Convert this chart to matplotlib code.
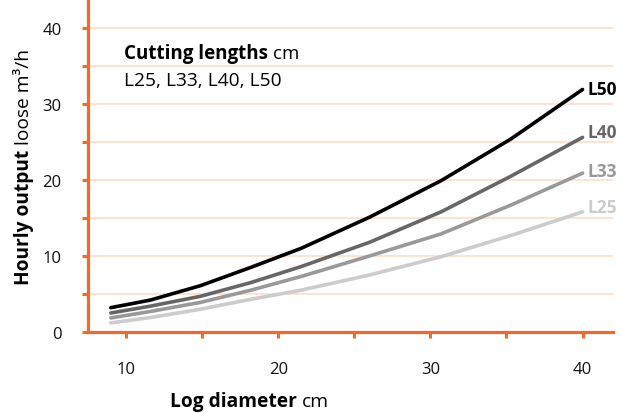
import matplotlib
matplotlib.use("Agg")
import matplotlib.pyplot as plt

# --- data -----------------------------------------------------------------
diameter = [9, 11.6, 14.9, 18.2, 21.5, 26, 30.7, 35.3, 40]
l50 = [3.2, 4.2, 6.1, 8.5, 11.0, 15.1, 19.9, 25.4, 31.9]
l40 = [2.5, 3.4, 4.7, 6.5, 8.6, 11.8, 15.8, 20.5, 25.6]
l33 = [1.85, 2.7, 3.9, 5.5, 7.3, 10.0, 12.9, 16.7, 20.9]
l25 = [1.2, 1.9, 3.0, 4.3, 5.5, 7.5, 9.9, 12.7, 15.8]
series = [("L50", l50, "#000000"), ("L40", l40, "#666666"),
          ("L33", l33, "#999999"), ("L25", l25, "#cccccc")]
x_ticks = [10, 15, 20, 25, 30, 35, 40]
x_labels = ["10", "", "20", "", "30", "", "40"]
y_ticks = [0, 5, 10, 15, 20, 25, 30, 35, 40]
y_labels = ["0", "", "10", "", "20", "", "30", "", "40"]

# small vertical nudges (points) for the end labels
nudge = {"L50": 0.5, "L40": 4, "L33": 1.5, "L25": 3.5}

orange = "#f26a2a"
grid = "#fde1cf"
plt.rcParams["font.family"] = ["Open Sans", "DejaVu Sans"]

fig = plt.figure(figsize=(6.22, 4.14), dpi=100)
ax = fig.add_axes([88/622, 1 - 333/414, (613-88)/622, 333/414])

for y in y_ticks[1:]:
    ax.axhline(y, color=grid, lw=1.3, zorder=0)

for name, vals, col in series:
    ax.plot(diameter, vals, color=col, lw=2.6, solid_capstyle="round",
            solid_joinstyle="round", zorder=3)
    ax.annotate(name, (diameter[-1], vals[-1]), xytext=(3.5, nudge[name]),
                textcoords="offset points", color=col, fontsize=12.5,
                fontweight="bold", va="center", ha="left")

ax.set_xlim(7.5, 42)
ax.set_ylim(0, 43.8)
ax.set_xticks(x_ticks)
ax.set_xticklabels(x_labels)
ax.set_yticks(y_ticks)
ax.set_yticklabels(y_labels)
ax.tick_params(axis="both", colors=orange, length=4.5, width=2.2, labelsize=12,
               labelcolor="#111111")
ax.tick_params(axis="x", pad=16.5)
ax.tick_params(axis="y", pad=14.5)
for s in ["top", "right"]:
    ax.spines[s].set_visible(False)
for s in ["left", "bottom"]:
    ax.spines[s].set_color(orange)
    ax.spines[s].set_linewidth(2.3)

fig.canvas.draw()
r = fig.canvas.get_renderer()


def mixed(x, y, bold, rest, rot=0, size=12):
    t = fig.text(x, y, bold, fontsize=size, fontweight="bold", rotation=rot,
                 ha="left", va="baseline", rotation_mode="anchor")
    bb = t.get_window_extent(r).transformed(fig.transFigure.inverted())
    if rot == 0:
        fig.text(bb.x1 + 0.008, y, rest, fontsize=size, ha="left", va="baseline")
    else:
        fig.text(x, bb.y1 + 0.012, rest, fontsize=size, rotation=rot,
                 ha="left", va="baseline", rotation_mode="anchor")


mixed(170/622, 1 - 407/414, "Log diameter", "cm", size=13.8)
mixed(29/622, 1 - 285/414, "Hourly output", "loose m³/h", rot=90, size=13.8)
mixed(124/622, 1 - 59/414, "Cutting lengths", "cm", size=13.5)
fig.text(124/622, 1 - 86/414, "L25, L33, L40, L50", fontsize=13.8, va="baseline")

fig.savefig("out.png", dpi=100)
